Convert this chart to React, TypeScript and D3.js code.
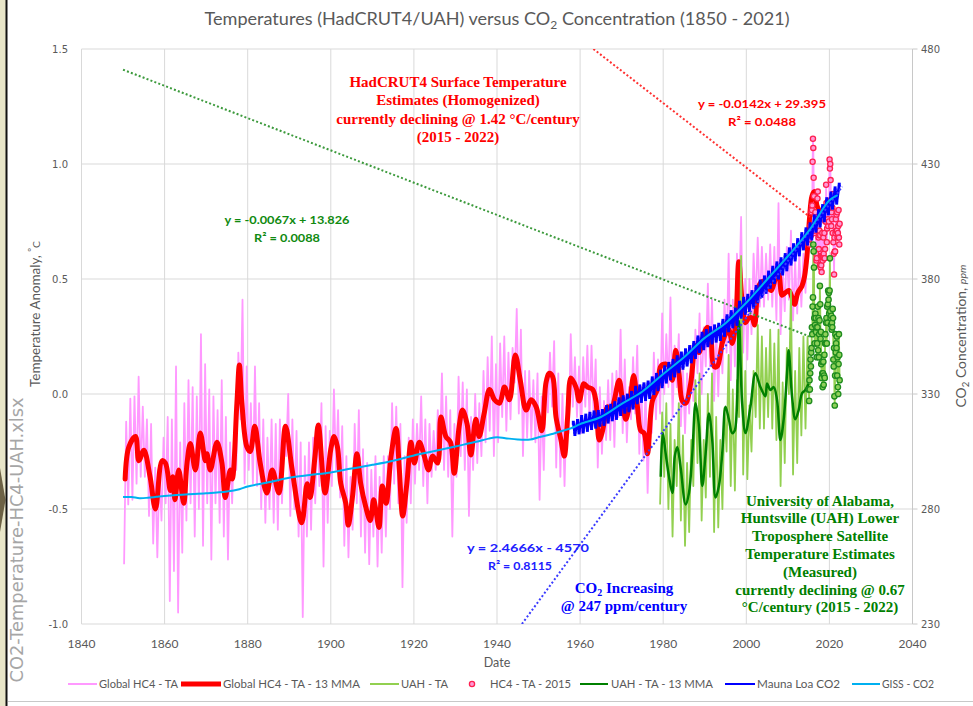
import React from "react";
import * as d3 from "d3";

// ---------- axis ticks ----------
const X_TICKS = [1840, 1860, 1880, 1900, 1920, 1940, 1960, 1980, 2000, 2020, 2040];
const T_TICKS = [-1.0, -0.5, 0.0, 0.5, 1.0, 1.5];
const CO2_TICKS = [230, 280, 330, 380, 430, 480];

// ---------- Global HC4 - TA (monthly band, yearly high / low) ----------
const HC_START = 1850;
const hcHi = [
  -0.12, -0.02, -0.01, 0.075, -0.055, -0.11, -0.13, -0.32, -0.33, -0.19,
  -0.10, -0.11, 0.12, -0.21, -0.04, 0.06, 0.03, -0.01, 0.26, 0.13,
  0.02, -0.01, -0.07, 0.06, -0.10, -0.21, -0.19, 0.18, 0.41, 0.12,
  -0.04, 0.12, -0.04, -0.11, -0.19, -0.11, -0.13, -0.11, -0.19, 0.0,
  -0.11, -0.16, -0.21, -0.27, -0.21, -0.19, -0.13, -0.04, -0.14, -0.16,
  0.02, -0.07, -0.14, -0.27, -0.36, -0.13, -0.07, -0.24, -0.30, -0.33,
  -0.27, -0.36, -0.27, -0.27, -0.04, -0.055, -0.13, -0.27, -0.19, -0.11,
  -0.13, -0.01, -0.11, -0.13, -0.16, -0.07, 0.09, -0.01, -0.07, -0.13,
  0.075, 0.05, 0.02, -0.10, 0.0, -0.04, 0.10, 0.16, 0.25, 0.13,
  0.22, 0.25, 0.18, 0.20, 0.37, 0.28, 0.10, 0.10, 0.06, 0.09,
  -0.01, 0.075, 0.18, 0.23, 0.09, 0.0, -0.055, 0.26, 0.16, 0.12,
  0.16, 0.21, 0.21, 0.15, 0.03, -0.03, 0.06, 0.09, 0.10, 0.28,
  0.15, 0.03, 0.16, 0.21, 0.03, 0.03, -0.085, 0.18, 0.15, 0.35,
  0.26, 0.42, 0.21, 0.26, 0.12, 0.09, 0.21, 0.28, 0.35, 0.29,
  0.48, 0.41, 0.29, 0.29, 0.41, 0.61, 0.41, 0.61, 0.77, 0.50,
  0.50, 0.61, 0.68, 0.64, 0.61, 0.65, 0.64, 0.83, 0.55, 0.64,
  0.71, 0.58, 0.61, 0.61, 0.71,
];
const hcLo = [
  -0.74, -0.48, -0.46, -0.39, -0.36, -0.36, -0.53, -0.65, -0.71, -0.55,
  -0.475, -0.90, -0.77, -0.95, -0.69, -0.55, -0.475, -0.62, -0.50, -0.66,
  -0.475, -0.72, -0.475, -0.56, -0.62, -0.72, -0.475, -0.33, -0.11, -0.39,
  -0.33, -0.39, -0.40, -0.50, -0.56, -0.50, -0.56, -0.59, -0.475, -0.27,
  -0.53, -0.50, -0.62, -0.97, -0.62, -0.59, -0.475, -0.40, -0.75, -0.56,
  -0.40, -0.33, -0.45, -0.66, -0.71, -0.59, -0.475, -0.62, -0.69, -0.74,
  -0.62, -0.75, -0.69, -0.62, -0.50, -0.39, -0.475, -0.84, -0.56, -0.475,
  -0.39, -0.33, -0.40, -0.475, -0.36, -0.33, -0.27, -0.33, -0.36, -0.62,
  -0.36, -0.27, -0.33, -0.53, -0.33, -0.30, -0.27, -0.21, -0.16, -0.27,
  -0.21, -0.10, -0.16, -0.11, 0.05, -0.085, -0.27, -0.19, -0.19, -0.21,
  -0.46, -0.33, -0.08, -0.055, -0.32, -0.36, -0.40, -0.17, -0.055, -0.10,
  -0.17, -0.055, -0.11, -0.085, -0.32, -0.26, -0.20, -0.20, -0.23, -0.10,
  -0.17, -0.21, -0.11, -0.085, -0.26, -0.29, -0.43, -0.17, -0.11, -0.085,
  0.0, 0.03, -0.10, 0.03, -0.14, -0.17, -0.085, -0.03, 0.09, 0.0,
  0.12, 0.12, -0.03, -0.01, 0.09, 0.18, 0.06, 0.12, 0.38, 0.18,
  0.15, 0.26, 0.38, 0.38, 0.38, 0.41, 0.38, 0.32, 0.26, 0.36,
  0.41, 0.32, 0.35, 0.38, 0.44,
];

// ---------- HC4 - TA - 2015 (monthly, from Jan 2015) ----------
const HC2015_START = 2015;
const hc2015 = [
  0.69, 0.67, 0.69, 0.65, 0.69, 0.73, 0.69, 0.72, 0.79, 0.80, 0.82, 1.01,
  1.11, 1.07, 0.94, 0.86, 0.70, 0.71, 0.78, 0.79, 0.74, 0.61, 0.58, 0.59,
  0.74, 0.85, 0.88, 0.73, 0.68, 0.63, 0.69, 0.71, 0.56, 0.69, 0.55, 0.60,
  0.56, 0.53, 0.60, 0.70, 0.58, 0.60, 0.68, 0.61, 0.59, 0.70, 0.59, 0.63,
  0.75, 0.75, 0.91, 0.83, 0.66, 0.72, 0.80, 0.76, 0.73, 0.80, 0.75, 0.84,
  1.02, 0.98, 1.00, 0.93, 0.84, 0.73, 0.79, 0.76, 0.81, 0.70, 0.87, 0.66,
  0.61, 0.52, 0.68, 0.62, 0.62, 0.70, 0.76, 0.71, 0.78, 0.71, 0.79, 0.68,
  0.70, 0.73, 0.80, 0.68, 0.65, 0.74,
];

// ---------- Global HC4 - TA - 13 MMA ----------
const mmaYears = [
  1850.5, 1851.4, 1853.0, 1853.8, 1855.0, 1856.5, 1857.8, 1859.4, 1860.2, 1861.4,
  1862.0, 1862.5, 1863.4, 1864.6, 1865.4, 1866.2, 1867.4, 1868.6, 1869.8, 1870.2,
  1871.0, 1872.6, 1873.8, 1874.6, 1875.8, 1876.3, 1877.4, 1878.0, 1878.6, 1879.8,
  1880.6, 1881.7, 1883.0, 1884.6, 1885.9, 1887.5, 1889.1, 1890.7, 1893.0, 1894.3,
  1895.0, 1896.2, 1897.0, 1898.6, 1900.0, 1900.8, 1901.6, 1902.4, 1903.6, 1904.2,
  1905.2, 1906.3, 1907.2, 1908.4, 1909.5, 1910.3, 1910.8, 1911.6, 1912.4, 1913.3,
  1914.5, 1915.7, 1916.5, 1917.3, 1918.3, 1919.3, 1920.1, 1921.3, 1922.5, 1923.5,
  1924.5, 1925.7, 1926.5, 1927.7, 1928.8, 1929.7, 1930.9, 1931.7, 1932.8, 1933.7,
  1934.9, 1935.7, 1936.9, 1938.2, 1939.4, 1940.6, 1941.8, 1943.0, 1944.4, 1945.6,
  1947.0, 1948.2, 1949.4, 1950.8, 1951.8, 1952.6, 1953.4, 1954.2, 1955.4, 1956.2,
  1957.0, 1957.8, 1959.0, 1959.8, 1960.9, 1961.8, 1963.0, 1963.8, 1964.6, 1965.4,
  1966.6, 1967.4, 1968.2, 1969.4, 1970.2, 1971.0, 1971.8, 1972.9, 1973.8, 1974.6,
  1975.4, 1976.2, 1977.4, 1978.6, 1979.4, 1980.6, 1981.4, 1982.2, 1983.0, 1983.8,
  1984.6, 1985.4, 1986.6, 1987.8, 1988.6, 1989.8, 1990.6, 1991.4, 1992.2, 1993.0,
  1994.2, 1995.0, 1995.8, 1996.6, 1997.4, 1998.2, 1999.0, 1999.8, 2000.6, 2001.4,
  2002.0, 2003.0, 2004.0, 2005.0, 2006.0, 2007.0, 2007.8, 2008.6, 2009.4, 2010.2,
  2011.0, 2011.6, 2012.4, 2013.4, 2014.0, 2014.6, 2015.2, 2015.8, 2016.4, 2017.0,
  2017.5,
];
const mmaVals = [
  -0.37, -0.23, -0.185, -0.29, -0.245, -0.36, -0.50, -0.29, -0.30, -0.42,
  -0.36, -0.46, -0.33, -0.475, -0.30, -0.215, -0.33, -0.17, -0.29, -0.26,
  -0.33, -0.21, -0.30, -0.45, -0.33, -0.37, -0.04, 0.126, -0.04, -0.23,
  -0.25, -0.14, -0.30, -0.43, -0.33, -0.43, -0.14, -0.33, -0.56, -0.39,
  -0.45, -0.27, -0.135, -0.43, -0.24, -0.185, -0.23, -0.39, -0.475, -0.57,
  -0.45, -0.26, -0.39, -0.49, -0.55, -0.46, -0.50, -0.58, -0.40, -0.475,
  -0.27, -0.15, -0.33, -0.53, -0.39, -0.21, -0.30, -0.21, -0.27, -0.33,
  -0.27, -0.30, -0.10, -0.185, -0.21, -0.345, -0.14, -0.07, -0.13, -0.265,
  -0.11, -0.185, -0.085, 0.02, -0.025, -0.04, 0.03, -0.025, 0.17, 0.06,
  -0.07, -0.025, -0.055, -0.16, 0.05, 0.09, 0.075, -0.10, -0.20, -0.27,
  -0.10, 0.07, 0.03, -0.03, 0.045, 0.03, 0.02, -0.03, -0.20, -0.16,
  -0.055, -0.085, -0.03, 0.06, -0.03, -0.11, -0.055, 0.08, -0.055, -0.16,
  -0.17, -0.26, -0.03, 0.02, 0.12, 0.13, 0.12, 0.06, 0.19, 0.09,
  -0.03, -0.04, 0.045, 0.21, 0.18, 0.26, 0.29, 0.26, 0.12, 0.12,
  0.22, 0.26, 0.28, 0.22, 0.30, 0.575, 0.40, 0.31, 0.33, 0.33,
  0.30, 0.47, 0.49, 0.47, 0.45, 0.50, 0.52, 0.43, 0.44, 0.45,
  0.42, 0.39, 0.44, 0.47, 0.51, 0.60, 0.76, 0.86, 0.88, 0.82,
  0.80,
];

// ---------- UAH - TA (monthly band, yearly high / low, 1979-2014) ----------
const UAH_START = 1979;
const uahHi = [
  -0.08, -0.04, -0.13, -0.20, -0.04, -0.18, -0.30, -0.20, 0.06, 0.09,
  -0.20, 0.0, 0.09, -0.10, -0.20, -0.06, 0.17, 0.02, 0.06, 0.60,
  0.10, -0.05, 0.10, 0.30, 0.25, 0.20, 0.28, 0.22, 0.28, 0.05,
  0.20, 0.45, 0.10, 0.20, 0.25, 0.25,
];
const uahLo = [
  -0.48, -0.36, -0.50, -0.62, -0.40, -0.55, -0.66, -0.60, -0.40, -0.30,
  -0.55, -0.45, -0.36, -0.60, -0.58, -0.50, -0.25, -0.40, -0.42, -0.10,
  -0.35, -0.37, -0.25, -0.10, -0.15, -0.15, -0.10, -0.15, -0.20, -0.40,
  -0.30, 0.0, -0.35, -0.30, -0.18, -0.15,
];
// UAH monthly from Jan 2015 (drawn with markers)
const UAH2015_START = 2015;
const uah2015 = [
  0.02, -0.03, 0.06, 0.02, 0.09, 0.15, 0.12, 0.18, 0.20, 0.29, 0.26, 0.38,
  0.42, 0.65, 0.62, 0.55, 0.33, 0.22, 0.30, 0.35, 0.33, 0.27, 0.29, 0.16,
  0.22, 0.29, 0.38, 0.19, 0.33, 0.16, 0.26, 0.32, 0.47, 0.39, 0.24, 0.27,
  0.13, 0.07, 0.14, 0.09, 0.03, 0.09, 0.14, 0.04, 0.08, 0.17, 0.07, 0.22,
  0.26, 0.22, 0.31, 0.33, 0.22, 0.38, 0.31, 0.39, 0.45, 0.41, 0.44, 0.35,
  0.45, 0.59, 0.36, 0.33, 0.30, 0.34, 0.28, 0.31, 0.29, 0.37, 0.33, 0.15,
  0.12, 0.20, -0.01, -0.05, 0.08, 0.26, 0.18, 0.22, 0.20, 0.25, 0.08, 0.16,
  0.03, 0.00, 0.13, 0.26, 0.17, 0.06,
];

// ---------- UAH - TA - 13 MMA ----------
const uahMmaYears = [
  1979.4, 1979.9, 1980.6, 1981.4, 1982.2, 1982.8, 1983.4, 1984.2, 1985.4, 1986.2,
  1987.0, 1987.8, 1988.6, 1989.4, 1990.2, 1991.0, 1991.8, 1992.6, 1993.4, 1994.2,
  1995.0, 1995.8, 1996.6, 1997.2, 1998.2, 1999.0, 1999.8, 2001.0, 2002.2, 2003.4,
  2004.6, 2005.0, 2005.8, 2006.6, 2007.4, 2008.2, 2009.0, 2009.8, 2010.2, 2011.0,
  2011.8, 2012.6, 2013.4, 2014.2, 2015.0,
];
const uahMmaVals = [
  -0.36, -0.17, -0.26, -0.36, -0.43, -0.27, -0.23, -0.32, -0.48, -0.43,
  -0.26, -0.04, -0.14, -0.40, -0.26, -0.085, -0.20, -0.45, -0.40, -0.26,
  -0.055, -0.11, -0.17, -0.16, 0.32, -0.04, -0.17, -0.055, 0.09, 0.03,
  -0.01, 0.046, 0.017, 0.03, -0.026, -0.20, -0.11, 0.09, 0.19, -0.01,
  -0.11, -0.07, 0.003, 0.017, 0.046,
];

// ---------- Mauna Loa CO2 (yearly seasonal peak / trough, ppm, from 1958) ----------
const ML_START = 1958;
const mlPeak = [
  317.5, 318.3, 320.0, 320.6, 321.4, 322.0, 322.2, 322.6, 324.3, 324.9,
  326.0, 327.7, 328.6, 329.3, 330.5, 332.7, 333.3, 334.2, 335.0, 336.8,
  338.3, 339.7, 341.6, 343.1, 344.4, 346.0, 347.6, 349.0, 350.4, 352.2,
  354.6, 356.2, 357.4, 358.6, 359.4, 360.1, 361.8, 363.8, 365.6, 366.7,
  369.7, 371.4, 372.7, 374.3, 376.5, 378.9, 380.7, 382.8, 384.9, 386.8,
  388.6, 390.4, 392.9, 394.7, 396.9, 399.5, 401.6, 403.8, 407.2, 409.5,
  411.7, 414.7, 417.2, 419.4, 421.0,
];
const mlTrough = [
  312.6, 313.3, 313.7, 314.4, 315.2, 315.8, 316.6, 317.0, 318.0, 319.0,
  319.6, 321.3, 322.3, 322.9, 324.1, 326.4, 327.0, 327.8, 328.7, 330.4,
  332.1, 333.4, 335.4, 336.8, 338.1, 339.9, 341.4, 342.8, 344.2, 346.1,
  348.6, 349.9, 351.2, 352.4, 353.2, 353.9, 355.7, 357.7, 359.4, 360.5,
  363.6, 365.3, 366.5, 368.1, 370.3, 372.7, 374.4, 376.6, 378.7, 380.6,
  382.4, 384.2, 386.7, 388.5, 390.7, 393.3, 395.4, 397.6, 401.0, 403.3,
  405.5, 408.5, 411.0, 413.2,
];

// ---------- GISS - CO2 ----------
const gissYears = [
  1850, 1852, 1854, 1856, 1858, 1860, 1865, 1870, 1875, 1878, 1880, 1885, 1890, 1895,
  1900, 1905, 1910, 1915, 1920, 1925, 1930, 1935, 1938, 1940, 1942, 1945, 1948, 1950,
  1953, 1955, 1958, 1960, 1965, 1970, 1975, 1980, 1985, 1990, 1995, 2000, 2005, 2010,
  2015, 2020, 2022,
];
const gissVals = [
  285.2, 285.2, 284.7, 284.9, 285.3, 285.7, 286.3, 286.8, 287.6, 288.6, 289.8, 291.6, 293.6, 294.8,
  295.9, 297.6, 299.2, 301.0, 303.3, 305.2, 307.2, 309.2, 310.6, 311.2, 310.8, 310.2, 310.2, 311.2,
  312.5, 313.6, 315.2, 316.9, 320.0, 325.7, 331.1, 338.7, 346.0, 354.4, 360.8, 369.7, 379.8, 389.9,
  400.8, 414.2, 416.5,
];

// ---------- trend lines (start / end as drawn) ----------
const greenTrendYears = [1850, 2015.3];
const greenTrendVals = [1.41, 0.25];
const redTrendYears = [1963.2, 2015.3];
const redTrendVals = [1.5, 0.77];
const blueTrendYears = [1946.0, 2023.1];
const blueTrendSlope = 2.4666;
const blueTrendIntercept = -4570;

// ---------- legend ----------
const legendItems = [
  { label: "Global HC4 - TA", kind: "line", color: "#ff99ff", w: 2, x1: 68, x2: 97, tx: 99, tl: 79 },
  { label: "Global HC4 - TA - 13 MMA", kind: "line", color: "#ff0000", w: 5, x1: 181, x2: 221, tx: 223, tl: 137 },
  { label: "UAH - TA", kind: "line", color: "#92d050", w: 2, x1: 370, x2: 399, tx: 401, tl: 47 },
  { label: "HC4 - TA - 2015", kind: "marker", color: "#ff2050", w: 1, x1: 472, x2: 472, tx: 490, tl: 81 },
  { label: "UAH - TA - 13 MMA", kind: "line", color: "#008000", w: 2, x1: 580, x2: 608, tx: 611, tl: 102 },
  { label: "Mauna Loa CO2", kind: "line", color: "#0000ff", w: 2, x1: 725, x2: 755, tx: 757, tl: 83 },
  { label: "GISS - CO2", kind: "line", color: "#00b0f0", w: 2, x1: 852, x2: 880, tx: 882, tl: 52 },
];

const SANS = "Lato, 'Open Sans', sans-serif";
const SERIF = "'Liberation Serif', 'DejaVu Serif', serif";
const GRAY = "#595959";

type P = [number, number];

export default function App() {
  const x = d3.scaleLinear().domain([1840, 2040]).range([81.5, 912.5]);
  const yT = d3.scaleLinear().domain([-1, 1.5]).range([624, 49]);
  const yC = d3.scaleLinear().domain([230, 480]).range([624, 49]);

  const lineT = d3.line<P>().x((d) => x(d[0])).y((d) => yT(d[1]));
  const lineC = d3.line<P>().x((d) => x(d[0])).y((d) => yC(d[1]));
  const smoothT = d3
    .line<P>()
    .x((d) => x(d[0]))
    .y((d) => yT(d[1]))
    .curve(d3.curveCatmullRom.alpha(0.5));
  const smoothC = d3
    .line<P>()
    .x((d) => x(d[0]))
    .y((d) => yC(d[1]))
    .curve(d3.curveCatmullRom.alpha(0.5));

  // pink monthly band
  const pinkPts: P[] = [];
  hcHi.forEach((h, i) => {
    const yr = HC_START + i;
    pinkPts.push([yr + 0.25, hcLo[i]], [yr + 0.75, h]);
  });
  const hc2015Pts: P[] = hc2015.map((v, i) => [HC2015_START + i / 12 + 1 / 24, v]);
  const pinkAll = pinkPts.concat(hc2015Pts);

  const mmaPts: P[] = mmaYears.map((yv, i) => [yv, mmaVals[i]]);

  const uahPts: P[] = [];
  uahHi.forEach((h, i) => {
    const yr = UAH_START + i;
    uahPts.push([yr + 0.25, uahLo[i]], [yr + 0.75, h]);
  });
  const uah2015Pts: P[] = uah2015.map((v, i) => [UAH2015_START + i / 12 + 1 / 24, v]);
  const uahAll = uahPts.concat(uah2015Pts);

  const uahMmaPts: P[] = uahMmaYears.map((yv, i) => [yv, uahMmaVals[i]]);

  const mlPts: P[] = [];
  mlPeak.forEach((p, i) => {
    const yr = ML_START + i;
    mlPts.push([yr + 0.37, p]);
    if (i < mlTrough.length) mlPts.push([yr + 0.75, mlTrough[i]]);
  });

  const gissPts: P[] = gissYears.map((yv, i) => [yv, gissVals[i]]);

  const greenTrend: P[] = greenTrendYears.map((yv, i) => [yv, greenTrendVals[i]]);
  const redTrend: P[] = redTrendYears.map((yv, i) => [yv, redTrendVals[i]]);
  const blueTrend: P[] = blueTrendYears.map((yv) => [yv, blueTrendSlope * yv + blueTrendIntercept]);

  const plotL = x(1840);
  const plotR = x(2040);
  const plotT = yT(1.5);
  const plotB = yT(-1);

  return (
    <svg
      width={973}
      height={706}
      viewBox="0 0 973 706"
      style={{ position: "absolute", left: 0, top: 0, background: "#ffffff" }}
    >
      <defs>
        <clipPath id="plotClip">
          <rect x={plotL} y={plotT} width={plotR - plotL} height={plotB - plotT} />
        </clipPath>
      </defs>
      <rect x={0} y={0} width={973} height={706} fill="#ffffff" />
      {/* window frame on the left / bottom */}
      <rect x={0} y={0} width={6} height={706} fill="#e8e5c8" />
      <path d="M0,468 L5.5,500 L0,532 Z" fill="#6d6245" />
      <line x1={6.5} y1={0} x2={6.5} y2={706} stroke="#111" strokeWidth={2} />
      <line x1={8} y1={701.5} x2={973} y2={701.5} stroke="#c8c8c8" strokeWidth={1} />

      {/* title */}
      <text
        x={497}
        y={25}
        textAnchor="middle"
        fontFamily={SANS}
        fontSize={18}
        fill={GRAY}
        textLength={585}
        lengthAdjust="spacingAndGlyphs"
      >
        Temperatures (HadCRUT4/UAH) versus CO
        <tspan fontSize={12} dy={4}>2</tspan>
        <tspan dy={-4}> Concentration (1850 - 2021)</tspan>
      </text>

      {/* gridlines */}
      {X_TICKS.map((t) => (
        <line key={"gx" + t} x1={x(t)} x2={x(t)} y1={plotT} y2={plotB} stroke="#d9d9d9" strokeWidth={1} />
      ))}
      {T_TICKS.map((t) => (
        <line key={"gy" + t} x1={plotL} x2={plotR} y1={yT(t)} y2={yT(t)} stroke="#d9d9d9" strokeWidth={1} />
      ))}
      {/* right axis line and ticks */}
      <line x1={plotR} x2={plotR} y1={plotT} y2={plotB} stroke="#c8c8c8" strokeWidth={1} />
      {CO2_TICKS.map((t) => (
        <line key={"rt" + t} x1={plotR} x2={plotR + 5} y1={yC(t)} y2={yC(t)} stroke="#c8c8c8" strokeWidth={1} />
      ))}

      {/* tick labels */}
      {T_TICKS.map((t) => (
        <text
          key={"lt" + t}
          x={68}
          y={yT(t) + 4}
          textAnchor="end"
          fontFamily="'DejaVu Sans', sans-serif"
          fontSize={10}
          fill={GRAY}
        >
          {t.toFixed(1)}
        </text>
      ))}
      {CO2_TICKS.map((t) => (
        <text
          key={"rl" + t}
          x={921}
          y={yC(t) + 4}
          textAnchor="start"
          fontFamily="'DejaVu Sans', sans-serif"
          fontSize={10}
          fill={GRAY}
        >
          {t}
        </text>
      ))}
      {X_TICKS.map((t) => (
        <text key={"xl" + t} x={x(t)} y={648} textAnchor="middle" fontFamily={SANS} fontSize={12} fill={GRAY}>
          {t}
        </text>
      ))}
      <text x={497} y={667} textAnchor="middle" fontFamily={SANS} fontSize={12.5} fill={GRAY}>
        Date
      </text>

      {/* axis titles */}
      <text
        transform="translate(40,314) rotate(-90)"
        textAnchor="middle"
        fontFamily={SANS}
        fontSize={13}
        fill={GRAY}
        textLength={146}
        lengthAdjust="spacingAndGlyphs"
      >
        Temperature Anomaly, <tspan fontSize={9} dy={-5}>º</tspan>
        <tspan fontSize={10} dy={5}>C</tspan>
      </text>
      <text
        transform="translate(966,336) rotate(-90)"
        textAnchor="middle"
        fontFamily={SANS}
        fontSize={13}
        fill={GRAY}
        textLength={143}
        lengthAdjust="spacingAndGlyphs"
      >
        CO<tspan fontSize={9} dy={3}>2</tspan>
        <tspan dy={-3}> Concentration, </tspan>
        <tspan fontSize={10} fontStyle="italic">ppm</tspan>
      </text>
      <text
        transform="translate(23,540) rotate(-90)"
        textAnchor="middle"
        fontFamily="'DejaVu Sans', sans-serif"
        fontSize={17}
        fill="#a6a6a6"
        textLength={285}
        lengthAdjust="spacingAndGlyphs"
      >
        CO2-Temperature-HC4-UAH.xlsx
      </text>

      {/* data */}
      <g clipPath="url(#plotClip)">
        <path d={lineT(pinkAll) ?? ""} fill="none" stroke="#ff99ff" strokeWidth={1.8} strokeLinejoin="round" />
        <path d={smoothT(mmaPts) ?? ""} fill="none" stroke="#ff0000" strokeWidth={5} strokeLinejoin="round" strokeLinecap="round" />
        <path d={lineT(uahAll) ?? ""} fill="none" stroke="#92d050" strokeWidth={1.8} strokeLinejoin="round" />
        {hc2015Pts.map((d, i) => (
          <circle key={"hm" + i} cx={x(d[0])} cy={yT(d[1])} r={2.6} fill="#ff9ad5" stroke="#ff2050" strokeWidth={1.3} />
        ))}
        <path d={smoothT(uahMmaPts) ?? ""} fill="none" stroke="#008000" strokeWidth={2.5} strokeLinejoin="round" />
        {uah2015Pts.map((d, i) => (
          <circle key={"um" + i} cx={x(d[0])} cy={yT(d[1])} r={2.7} fill="#8fd05a" stroke="#1e8c1e" strokeWidth={1.3} />
        ))}
        <path d={lineT(greenTrend) ?? ""} fill="none" stroke="#3c9a3c" strokeWidth={2} strokeDasharray="2 2.2" />
        <path d={lineT(redTrend) ?? ""} fill="none" stroke="#ff3030" strokeWidth={2} strokeDasharray="2 2.2" />
        <path d={lineC(mlPts) ?? ""} fill="none" stroke="#0000ff" strokeWidth={2.8} strokeLinejoin="miter" />
        {mlPts.map((d, i) => (
          <rect key={"ml" + i} x={x(d[0]) - 1.5} y={yC(d[1]) - 2} width={3} height={4} fill="#0000ff" />
        ))}
        <path d={lineC(blueTrend) ?? ""} fill="none" stroke="#3b3bff" strokeWidth={2} strokeDasharray="2 2.2" />
        <path d={smoothC(gissPts) ?? ""} fill="none" stroke="#00b0f0" strokeWidth={2} strokeLinejoin="round" />
      </g>

      {/* annotations */}
      <g fontFamily={SERIF} fontWeight="bold" fontSize={15} fill="#ff0000" textAnchor="middle">
        <text x={458} y={87}>HadCRUT4 Surface Temperature</text>
        <text x={458} y={105}>Estimates (Homogenized)</text>
        <text x={458} y={124}>currently declining @ 1.42 °C/century</text>
        <text x={458} y={142}>(2015 - 2022)</text>
      </g>
      <g fontFamily={SERIF} fontWeight="bold" fontSize={15} fill="#0000ff" textAnchor="middle">
        <text x={624} y={593}>
          CO<tspan fontSize={10} dy={3}>2</tspan>
          <tspan dy={-3}> Increasing</tspan>
        </text>
        <text x={624} y={611}>@ 247 ppm/century</text>
      </g>
      <g fontFamily={SERIF} fontWeight="bold" fontSize={15} fill="#008000" textAnchor="middle">
        <text x={820} y={506}>University of Alabama,</text>
        <text x={820} y={523}>Huntsville (UAH) Lower</text>
        <text x={820} y={541}>Troposphere Satellite</text>
        <text x={820} y={559}>Temperature Estimates</text>
        <text x={820} y={577}>(Measured)</text>
        <text x={820} y={595}>currently declining @ 0.67</text>
        <text x={820} y={612}>°C/century (2015 - 2022)</text>
      </g>

      {/* regression labels */}
      <g fontFamily={SANS} fontWeight="bold" fontSize={12} textAnchor="middle">
        <text x={762} y={108} fill="#ff0000" textLength={128} lengthAdjust="spacingAndGlyphs">
          y = -0.0142x + 29.395
        </text>
        <text x={762} y={126} fill="#ff0000" textLength={68} lengthAdjust="spacingAndGlyphs">
          R² = 0.0488
        </text>
        <text x={287} y={224} fill="#108a10" textLength={125} lengthAdjust="spacingAndGlyphs">
          y = -0.0067x + 13.826
        </text>
        <text x={287} y={242} fill="#108a10" textLength={66} lengthAdjust="spacingAndGlyphs">
          R² = 0.0088
        </text>
        <text x={528} y={552} fill="#2020ff" textLength={122} lengthAdjust="spacingAndGlyphs">
          y = 2.4666x - 4570
        </text>
        <text x={520} y={570} fill="#2020ff" textLength={64} lengthAdjust="spacingAndGlyphs">
          R² = 0.8115
        </text>
      </g>

      {/* legend */}
      {legendItems.map((it) => (
        <g key={it.label}>
          {it.kind === "line" ? (
            <line x1={it.x1} x2={it.x2} y1={684} y2={684} stroke={it.color} strokeWidth={it.w} />
          ) : (
            <circle cx={it.x1} cy={684} r={2.6} fill="#ff9ad5" stroke="#ff2050" strokeWidth={1.3} />
          )}
          <text
            x={it.tx}
            y={688}
            fontFamily={SANS}
            fontSize={12}
            fill={GRAY}
            textLength={it.tl}
            lengthAdjust="spacingAndGlyphs"
          >
            {it.label}
          </text>
        </g>
      ))}
    </svg>
  );
}
